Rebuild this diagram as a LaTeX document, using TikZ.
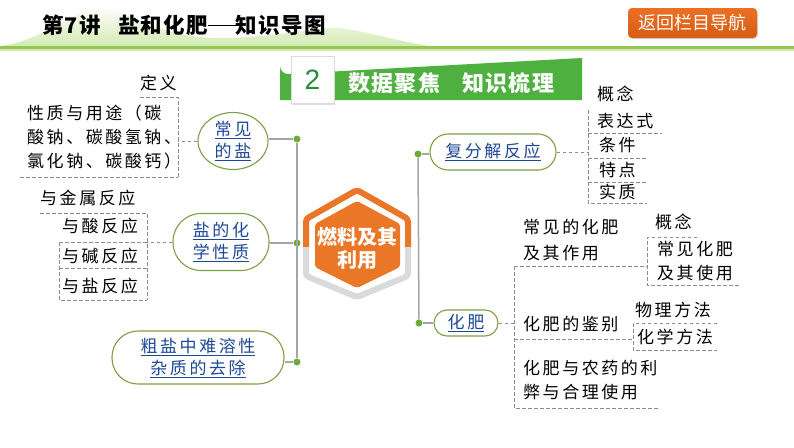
\documentclass[tikz,border=0pt]{standalone}
\usepackage{fontspec}
\setmainfont{Noto Sans CJK SC}
\newfontfamily\cjk[LetterSpace=15]{Noto Sans CJK SC}
\newfontfamily\cjkt[LetterSpace=6]{Noto Sans CJK SC}
\newfontfamily\latinsans{Liberation Sans}
\usetikzlibrary{shapes.geometric,shadows,calc}
\definecolor{lgray}{RGB}{165,165,165}
\definecolor{dgray}{RGB}{140,140,140}
\definecolor{dotg}{RGB}{112,170,60}
\definecolor{olivb}{RGB}{128,158,70}
\definecolor{linkblue}{RGB}{30,72,150}
\definecolor{bannerg}{RGB}{78,176,62}
\definecolor{numg}{RGB}{40,140,60}
\definecolor{hexo}{RGB}{234,118,40}
\definecolor{hexgray}{RGB}{218,218,218}
\definecolor{btno}{RGB}{236,112,36}
\definecolor{btnd}{RGB}{214,92,20}
\definecolor{hdrg}{RGB}{146,200,82}
\definecolor{hillg}{RGB}{200,230,160}
\tikzset{
  gline/.style={draw=lgray, line width=1.5pt},
  dline/.style={draw=dgray, line width=0.9pt, dash pattern=on 3.5pt off 2.5pt},
  gdot/.style={circle, fill=dotg, inner sep=0pt, minimum size=7pt},
  topic/.style={draw=olivb, line width=1.1pt, fill=white, align=center, inner sep=0pt,
    text=linkblue, font=\cjk\fontsize{17}{22}\selectfont},
  leaf/.style={anchor=west, inner sep=0pt, align=left, font=\cjk\fontsize{17}{24}\selectfont},
  leafw/.style={leaf, font=\cjk\fontsize{17}{26}\selectfont},
}
\begin{document}
\begin{tikzpicture}[x=1pt,y=-1pt]
\useasboundingbox (0,0) rectangle (794,447);
\fill[white] (0,0) rectangle (794,447);
% header hills
\shade[top color=white, bottom color=hillg, opacity=0.8]
  (0,46) .. controls (40,42) and (70,12) .. (100,6) .. controls (130,12) and (160,38) .. (220,38)
  .. controls (280,38) and (310,26) .. (340,28) .. controls (370,32) and (400,42) .. (430,46) -- cycle;
\fill[hdrg] (0,45.5) rectangle (794,49);
\fill[hdrg!40] (0,49) rectangle (794,51);
% title
\node[anchor=west, inner sep=0pt, font=\cjkt\bfseries\fontsize{21.5}{24}\selectfont] (title) at (42,25)
  {第7讲\hspace{0.8em}盐和化肥\rule[0.32em]{1.3em}{0.08em}知识导图};
% button
\node[rounded corners=4pt, top color=btno, bottom color=btnd, minimum width=129pt, minimum height=30pt,
  text=white, font=\fontsize{18}{20}\selectfont, drop shadow={opacity=0.3, shadow xshift=1pt, shadow yshift=-1pt}]
  (btn) at (692.5,23) {返回栏目导航};
% banner
\fill[bannerg] (280,100) -- (280,66) arc[start angle=180, end angle=90, radius=8] -- (582,58) -- (582,100) -- cycle;
\node[draw=black!15, fill=white, minimum width=43pt, minimum height=47pt, inner sep=0pt,
  drop shadow={opacity=0.25, shadow xshift=1pt, shadow yshift=-1.5pt}] (numbox) at (312.5,79.5) {};
\node[text=numg, font=\latinsans\fontsize{28}{30}\selectfont] (num) at (312.5,80) {2};
\node[anchor=west, inner sep=0pt, text=white, font=\cjkt\bfseries\fontsize{22}{24}\selectfont] (bantext) at (348,83)
  {数据聚焦\hspace{1.0em}知识梳理};
% central hexagon
\draw[hexgray, line width=6pt, rounded corners=3pt]
  (357,190) -- (408,219) -- (408,276) -- (357,297) -- (306,276) -- (306,219) -- cycle;
\begin{scope}
  \clip (290,180) rectangle (420,246);
  \draw[hexo, line width=6pt, rounded corners=3pt]
    (357,190) -- (408,219) -- (408,276) -- (357,297) -- (306,276) -- (306,219) -- cycle;
\end{scope}
\fill[hexo, rounded corners=2pt] (357,201) -- (400,224) -- (400,267) -- (357,288) -- (315,267) -- (315,224) -- cycle;
\node[align=center, text=white, font=\bfseries\fontsize{20}{23}\selectfont] (center) at (357,248) {燃料及其\\利用};
% left topics
\node[topic, ellipse, minimum width=70pt, minimum height=57pt] (salt) at (233,141)
  {\underline{常见}\\\underline{的盐}};
\node[topic, rectangle, rounded corners=28pt, minimum width=96pt, minimum height=57pt] (chem) at (221,242)
  {\underline{盐的化}\\\underline{学性质}};
\node[topic, rectangle, rounded corners=26pt, minimum width=172pt, minimum height=53pt] (crude) at (198,357.5)
  {\underline{粗盐中难溶性}\\\underline{杂质的去除}};
% right topics
\node[topic, rectangle, rounded corners=18pt, minimum width=126pt, minimum height=36pt] (fj) at (493,152)
  {\underline{复分解反应}};
\node[topic, rectangle, rounded corners=13pt, minimum width=64pt, minimum height=26pt] (hf) at (466,323)
  {\underline{化肥}};
% dots
\node[gdot] (d1) at (297,139) {};
\node[gdot] (d2) at (297,243) {};
\node[gdot] (d3) at (297,362) {};
\node[gdot] (d4) at (418,154) {};
\node[gdot] (d5) at (419,323) {};
% gray connectors
\draw[gline] (d1) -- (d3);
\draw[gline] (d4) -- (d5);
\draw[gline] (salt.east |- d1) -- (d1);
\draw[gline] (chem.east |- d2) -- (d2);
\draw[gline] (crude.east |- d3) -- (d3);
\draw[gline] (d4) -- (fj.west |- d4);
\draw[gline] (d5) -- (hf.west);
% left leaves: 常见的盐
\node[leaf] (def) at (140,83) {定义};
\node[leaf] (prop) at (27,137) {性质与用途（碳\\酸钠、碳酸氢钠、\\氯化钠、碳酸钙）};
\coordinate (bx1) at (178,141);
\draw[dline] (140,97) -- (178,97) -- (178,177);
\draw[dline] (20,177) -- (178,177);
\draw[dline] (salt.west) -- (salt.west -| bx1);
% left leaves: 盐的化学性质
\node[leaf] (metal) at (40,198) {与金属反应};
\node[leaf] (acid) at (62,226) {与酸反应};
\node[leaf] (base) at (62,256) {与碱反应};
\node[leaf] (saltr) at (62,286) {与盐反应};
\coordinate (bx2) at (147,242);
\draw[dline] (40,213) -- (147,213) -- (147,300);
\draw[dline] (59,242) -- (147,242);
\draw[dline] (59,268) -- (147,268);
\draw[dline] (59,242) -- (59,300) -- (147,300);
\draw[dline] (chem.west) -- (chem.west -| bx2);
% right leaves: 复分解反应
\node[leaf] (gn1) at (597,94) {概念};
\node[leaf] (bds) at (597,121) {表达式};
\node[leaf] (tj) at (599,145) {条件};
\node[leaf] (td) at (599,170) {特点};
\node[leaf] (sz) at (599,192) {实质};
\coordinate (bx3) at (588,152);
\draw[dline] (588,110) -- (588,203) -- (647,203);
\draw[dline] (588,133) -- (662,133);
\draw[dline] (588,158) -- (647,158);
\draw[dline] (588,182) -- (647,182);
\draw[dline] (fj.east) -- (fj.east -| bx3);
% right leaves: 化肥
\node[leafw] (cjhf) at (523,240.5) {常见的化肥\\及其作用};
\node[leaf] (gn2) at (655,222) {概念};
\node[leaf] (cjhf2) at (657,261.5) {常见化肥\\及其使用};
\node[leaf] (jb) at (523,324) {化肥的鉴别};
\node[leaf] (wl) at (635,310) {物理方法};
\node[leaf] (hx) at (637,337) {化学方法};
\node[leaf] (ny) at (523,380) {化肥与农药的利\\弊与合理使用};
\coordinate (bx4) at (514,323);
\draw[dline] (514,266) -- (647,266);
\draw[dline] (514,266) -- (514,408) -- (660,408);
\draw[dline] (514,339) -- (633,339);
\draw[dline] (697,237) -- (647,237) -- (647,285) -- (740,285);
\draw[dline] (717,323) -- (633,323) -- (633,350) -- (717,350);
\draw[dline] (hf.east) -- (hf.east -| bx4);
\end{tikzpicture}
\end{document}
